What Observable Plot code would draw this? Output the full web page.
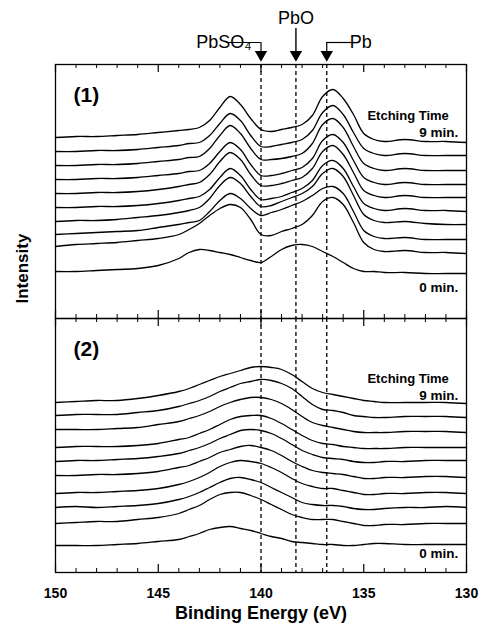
<!DOCTYPE html>
<html><head><meta charset="utf-8">
<script src="https://cdn.jsdelivr.net/npm/d3@7"></script>
<script src="https://cdn.jsdelivr.net/npm/@observablehq/plot@0.6"></script>
<style>body{margin:0;background:#fff} #chart svg{display:block}</style>
</head><body><div id="chart"></div>
<script>
// Binding energy grid (eV)
const energy = [150,149,148,147,146,145,144,143.5,143,142.5,142,141.5,141,140.5,140,139.5,139,138.5,138,137.5,137,136.5,136,135.5,135,134.5,134,133,132,131,130];

// Panel (1): stacked spectra, 0 min (bottom) ... 9 min (top), offset intensity (a.u.)
const panel1Curves = [
  [47,47,48,49,50,53,60,66,69,68,66,64,61,58,56,62,69,73,74,72,67,62,56,50,47,47,46,46,45,45,45],
  [72,74,75,76,78,80,84,89,95,103,110,114,111,99,84,83,87,90,94,103,117,121,114,96,76,69,67,68,66,66,65],
  [84,85,86,87,88,91,94,96,98,107,118,125,120,110,103,106,109,113,117,123,130,132,125,107,88,82,80,81,79,79,79],
  [97,98,98,99,101,103,106,108,111,120,133,141,135,122,112,113,117,121,125,132,145,150,142,123,104,98,96,97,95,94,94],
  [111,111,112,112,113,115,118,120,122,129,141,150,143,129,119,120,122,126,130,138,153,158,150,132,115,110,108,110,108,108,107],
  [125,125,126,126,127,129,132,134,136,144,157,166,159,144,133,133,135,138,141,150,167,173,164,146,128,123,121,123,121,121,121],
  [139,139,140,140,141,143,145,147,148,155,167,176,169,154,143,143,145,148,151,160,178,184,176,158,141,136,134,136,134,134,134],
  [153,153,154,154,155,157,159,161,162,170,183,193,185,170,159,159,160,162,165,175,194,200,191,172,155,150,148,150,148,148,148],
  [167,167,168,168,169,171,173,175,176,183,195,205,198,183,172,172,174,176,179,188,206,213,204,186,170,165,163,165,163,163,163],
  [181,182,182,183,184,186,188,189,191,198,211,222,214,200,189,187,189,191,194,203,222,229,220,204,185,179,177,179,177,177,176]
];

// Panel (2)
const panel2Curves = [
  [27,27,27,28,29,31,33,36,39,43,45,46,44,42,39,36,34,31,30,29,28,28,27,27,28,29,29,28,28,28,28],
  [49,50,51,51,53,55,59,63,67,73,78,80,80,77,73,68,63,58,55,53,53,53,51,49,47,47,48,48,49,49,49],
  [65,66,65,66,67,69,73,76,80,85,90,94,95,93,90,85,80,75,70,68,67,67,66,64,63,63,64,65,65,66,65],
  [79,80,80,81,82,84,88,91,95,100,106,110,112,111,109,105,100,94,89,86,84,84,82,80,78,78,79,79,80,80,79],
  [97,97,98,98,99,101,105,107,111,115,120,123,126,127,125,122,117,111,106,102,100,99,98,96,94,94,95,95,96,96,95],
  [111,112,112,113,114,116,119,122,125,129,134,138,142,143,142,139,134,128,122,118,115,114,113,111,110,110,111,111,112,112,112],
  [125,126,126,126,127,129,133,135,139,143,148,153,156,157,157,154,149,143,137,132,129,128,126,125,124,124,124,125,125,125,125],
  [143,143,143,144,145,148,151,154,157,161,166,170,173,175,175,173,169,163,156,150,147,145,143,141,140,140,140,141,141,141,140],
  [157,158,158,158,160,162,166,169,172,176,181,185,189,191,193,192,189,184,176,168,163,162,160,157,156,155,155,156,156,156,155],
  [170,171,172,172,174,177,181,184,188,192,196,199,202,205,206,205,203,198,191,184,180,178,176,174,172,171,170,170,170,170,169]
];

const panelNames = ["1", "2"];
const panelLabels = ["(1)", "(2)"];

// Reference peak positions (dashed lines) and labels
const peakEnergies = [140.0, 138.3, 136.8];
const peakNames = ["PbSO\u2084", "PbO", "Pb"];
const peakLabelEnergies = [141.8, 138.3, 135.15];

// Axis ticks
const majorTicks = [150, 145, 140, 135, 130];
const tickLabels = ["150", "145", "140", "135", "130"];
const minorTicks = [149,148,147,146,144,143,142,141,139,138,137,136,134,133,132,131];

const xLabel = "Binding Energy (eV)";
const yLabel = "Intensity";
const legendTitle = "Etching Time";
const timeLabels = ["9 min.", "0 min."];

// build rows
const rows = [];
[panel1Curves, panel2Curves].forEach((curves, p) => {
  curves.forEach((vals, k) => {
    vals.forEach((v, i) => rows.push({panel: panelNames[p], curve: k, E: energy[i], I: v}));
  });
});

const H = 254; // intensity span of each panel
const P1 = () => "1";
const P2 = () => "2";

const peakRows = peakEnergies.map((e, i) => ({E: e, name: peakNames[i], labelE: peakLabelEnergies[i]}));
const ann = [
  {panel: "1", title: legendTitle, top: timeLabels[0], bottom: timeLabels[1], tY: 203, topY: 186, botY: 31},
  {panel: "2", title: legendTitle, top: timeLabels[0], bottom: timeLabels[1], tY: 194, topY: 177, botY: 19}
];

const font = "'Liberation Sans', Arial, Helvetica, sans-serif";

const chart = Plot.plot({
  width: 484,
  height: 631,
  marginLeft: 55,
  marginRight: 18,
  marginTop: 64,
  marginBottom: 59,
  style: {fontFamily: font, fontSize: "14px", color: "black", background: "white"},
  x: {domain: [150, 130], axis: null},
  y: {domain: [0, H], axis: null},
  fy: {domain: panelNames, padding: 0, axis: null},
  marks: [
    Plot.frame({stroke: "black", strokeWidth: 1.3}),
    // inward ticks on top and bottom of each panel
    Plot.ruleX(minorTicks, {x: d => d, y1: H, y2: H - 4, stroke: "black", strokeWidth: 1}),
    Plot.ruleX(minorTicks, {x: d => d, y1: 0, y2: 4, stroke: "black", strokeWidth: 1}),
    Plot.ruleX(majorTicks, {x: d => d, y1: H, y2: H - 8, stroke: "black", strokeWidth: 1.2}),
    Plot.ruleX(majorTicks, {x: d => d, y1: 0, y2: 8, stroke: "black", strokeWidth: 1.2}),
    // dashed reference lines
    Plot.ruleX(peakEnergies, {x: d => d, stroke: "black", strokeWidth: 1.3, strokeDasharray: "4,3"}),
    // spectra
    Plot.line(rows, {x: "E", y: "I", z: "curve", fy: "panel", curve: "catmull-rom", stroke: "black", strokeWidth: 1.3}),
    // panel labels
    Plot.text(panelNames.map((p, i) => ({panel: p, t: panelLabels[i]})), {fy: "panel", x: 149.12, y: 223, text: "t", textAnchor: "start", fontSize: 21, fontWeight: "bold"}),
    // etching time annotations
    Plot.text(ann, {fy: "panel", x: 134.82, y: "tY", text: "title", textAnchor: "start", fontSize: 13, fontWeight: "bold"}),
    Plot.text(ann, {fy: "panel", x: 130.4, y: "topY", text: "top", textAnchor: "end", fontSize: 13.5, fontWeight: "bold"}),
    Plot.text(ann, {fy: "panel", x: 130.4, y: "botY", text: "bottom", textAnchor: "end", fontSize: 13.5, fontWeight: "bold"}),
    // peak callouts above panel 1
    Plot.dot(peakRows, {fy: P1, x: "E", y: 264, symbol: "triangle", rotate: 180, r: 4.6, fill: "black", stroke: "none"}),
    Plot.ruleX(peakRows.filter(d => d.name === "PbO"), {fy: P1, x: "E", y1: 290, y2: 266, stroke: "black", strokeWidth: 1.4}),
    Plot.ruleX(peakRows.filter(d => d.name !== "PbO"), {fy: P1, x: "E", y1: 276, y2: 266, stroke: "black", strokeWidth: 1.2}),
    Plot.ruleY(peakRows.filter(d => d.name !== "PbO"), {fy: P1, y: 276, x1: d => d.labelE + (d.labelE > d.E ? -0.12 : 0.12), x2: "E", stroke: "black", strokeWidth: 1.2}),
    Plot.text(peakRows.filter(d => d.name === "PbO"), {fy: P1, x: "E", y: 300, text: "name", fontSize: 18}),
    Plot.text(peakRows.filter(d => d.name !== "PbO"), {fy: P1, x: "labelE", y: 276, text: "name", fontSize: 18, textAnchor: d => d.labelE > d.E ? "end" : "start"}),
    // axis labels
    Plot.axisX(majorTicks, {anchor: "bottom", tickSize: 0, tickPadding: 16, tickFormat: d => tickLabels[majorTicks.indexOf(d)], fontSize: 14, fontWeight: "bold", label: null}),
    Plot.text([xLabel], {fy: P2, frameAnchor: "bottom", dy: 46, fontSize: 18, fontWeight: "bold"}),
    Plot.text([yLabel], {fy: P1, frameAnchor: "left", y: 15, dx: -33, rotate: -90, fontSize: 17, fontWeight: "bold"})
  ]
});
document.getElementById("chart").appendChild(chart);
</script>
</body></html>
